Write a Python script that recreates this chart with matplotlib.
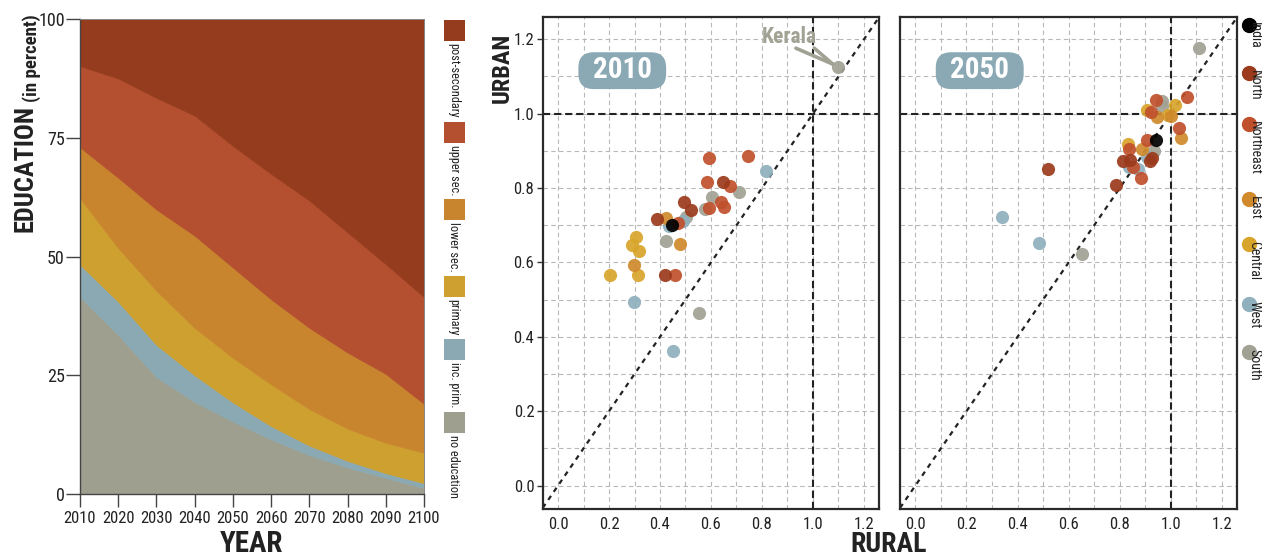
import numpy as np
import matplotlib.pyplot as plt
from matplotlib import font_manager
from matplotlib.patches import Rectangle, FancyBboxPatch
from matplotlib.lines import Line2D

# pick the narrowest sans family that is installed
_fonts = {(f.name, f.stretch) for f in font_manager.fontManager.ttflist}
_names = {n for n, _ in _fonts}
family, stretch = 'Liberation Sans', 'normal'
for fam, st in [('Liberation Sans Narrow', None), ('Roboto Condensed', None), ('Roboto', 'condensed'),
                ('Open Sans', 'condensed'), ('DejaVu Sans', 'condensed'), ('Noto Sans', 'condensed')]:
    if (st is None and fam in _names) or (fam, st) in _fonts:
        family, stretch = fam, (st or 'normal')
        break
plt.rcParams['font.family'] = [family, 'DejaVu Sans']
plt.rcParams['font.stretch'] = stretch

# education shares for India, 2010-2100 (percent of population)
years = [2010, 2020, 2030, 2040, 2050, 2060, 2070, 2080, 2090, 2100]
no_education = [41.5, 33.5, 24.6, 19.4, 15.3, 11.5, 8.2, 5.6, 3.4, 1.3]
incomplete_primary = [6.8, 7.0, 6.8, 5.6, 4.0, 2.8, 2.0, 1.4, 1.0, 1.0]
primary = [14.0, 11.3, 11.4, 10.0, 9.4, 8.8, 7.7, 6.8, 6.4, 6.4]
lower_secondary = [10.7, 14.8, 17.1, 19.4, 19.0, 17.9, 17.1, 16.0, 14.5, 10.3]
upper_secondary = [17.1, 20.9, 23.5, 25.3, 25.6, 26.4, 26.8, 25.3, 23.1, 22.5]
post_secondary = [9.9, 12.5, 16.6, 20.3, 26.7, 32.6, 38.2, 44.9, 51.6, 58.5]

edu_labels = ['no education', 'inc. prim.', 'primary', 'lower sec.', 'upper sec.', 'post-secondary']
edu_colors = ['#9e9f8f', '#8ba9b3', '#cda030', '#c8852e', '#b4502f', '#953c1e']

# state values (rural, urban) by region
regions = ['India', 'North', 'Northeast', 'East', 'Central', 'West', 'South']
region_colors = ['#000000', '#9b3a1c', '#c0502c', '#d08a2c', '#d8a52a', '#8fb0bc', '#a1a294']

rural_2010 = {
    'India': [0.447],
    'North': [0.648, 0.495, 0.522, 0.387, 0.421],
    'Northeast': [0.592, 0.745, 0.583, 0.675, 0.638, 0.652, 0.593, 0.469, 0.459],
    'East': [0.424, 0.478, 0.298],
    'Central': [0.306, 0.292, 0.319, 0.204, 0.315],
    'West': [0.814, 0.491, 0.437, 0.299, 0.450],
    'South': [0.711, 0.605, 0.578, 0.501, 0.422, 0.554, 1.097],
}
urban_2010 = {
    'India': [0.700],
    'North': [0.817, 0.762, 0.742, 0.718, 0.567],
    'Northeast': [0.882, 0.887, 0.815, 0.806, 0.762, 0.748, 0.746, 0.706, 0.567],
    'East': [0.720, 0.650, 0.594],
    'Central': [0.669, 0.648, 0.630, 0.566, 0.566],
    'West': [0.845, 0.711, 0.699, 0.494, 0.362],
    'South': [0.789, 0.775, 0.744, 0.721, 0.657, 0.464, 1.125],
}
rural_2050 = {
    'India': [0.941],
    'North': [0.521, 0.785, 0.928, 0.920, 0.814, 0.840],
    'Northeast': [1.065, 0.943, 0.922, 1.033, 0.905, 0.837, 0.853, 0.883],
    'East': [1.039, 0.944, 0.886, 1.000],
    'Central': [1.018, 0.905, 0.990, 0.831],
    'West': [0.339, 0.484, 0.905, 0.837, 0.872],
    'South': [1.111, 0.651, 0.967, 0.967, 0.934],
}
urban_2050 = {
    'India': [0.930],
    'North': [0.852, 0.809, 0.881, 0.872, 0.872, 0.876],
    'Northeast': [1.044, 1.038, 1.005, 0.961, 0.930, 0.906, 0.857, 0.827],
    'East': [0.935, 0.990, 0.906, 0.995],
    'Central': [1.024, 1.011, 0.997, 0.919],
    'West': [0.722, 0.651, 0.883, 0.857, 0.851],
    'South': [1.176, 0.623, 1.035, 1.020, 0.900],
}

W, H = 1262, 556
fig = plt.figure(figsize=(W / 100, H / 100), dpi=100)


def box(l, t, r, b):
    return [l / W, 1 - b / H, (r - l) / W, (b - t) / H]


def fx(px):
    return px / W


def fy(py):
    return 1 - py / H


# ---- stacked education shares ----
ax = fig.add_axes(box(80, 19, 424, 494))
layers = [no_education, incomplete_primary, primary, lower_secondary, upper_secondary, post_secondary]
base = np.zeros(len(years))
for vals, col in zip(layers, edu_colors):
    top = base + np.array(vals)
    ax.fill_between(years, base, top, color=col, lw=0.6, ec=col)
    base = top
ax.set_xlim(2010, 2100)
ax.set_ylim(0, 100)
ax.set_xticks(years)
ax.set_yticks([0, 25, 50, 75, 100])
ax.tick_params(axis='y', length=10, width=1, labelsize=13, pad=1, color='#444', labelcolor='#222')
ax.tick_params(axis='x', length=9, width=1, labelsize=12, pad=3, color='#444', labelcolor='#222')
for s in ['left', 'bottom']:
    ax.spines[s].set_color('#444')
    ax.spines[s].set_linewidth(1)
for s in ['top', 'right']:
    ax.spines[s].set_color('#888')
    ax.spines[s].set_linewidth(0.7)

fig.text(fx(252), fy(544), 'YEAR', ha='center', va='center', fontsize=21, fontweight='bold', color='#222')
renderer = fig.canvas.get_renderer()
t = fig.text(fx(31.5), fy(14), '(in percent)', rotation=90, ha='center', va='top',
             fontsize=13.5, fontweight='bold', color='#222')
bb = t.get_window_extent(renderer)
fig.text(fx(26), (bb.y0 - 3) / H, 'EDUCATION', rotation=90, ha='center', va='top',
         fontsize=19, fontweight='bold', color='#222')

# rotated legend for the education levels
y = 20
for lab, col in zip(edu_labels[::-1], edu_colors[::-1]):
    fig.add_artist(Rectangle((fx(444), fy(y + 21)), 21 / W, 21 / H, transform=fig.transFigure,
                             color=col, lw=0))
    t = fig.text(fx(454), fy(y + 23), lab, rotation=-90, ha='center', va='top', fontsize=8.8, color='#222')
    bb = t.get_window_extent(renderer)
    y = H - bb.y0 + 4


# ---- rural vs urban scatter panels ----
def panel(rect, rural, urban, year, show_y):
    a = fig.add_axes(rect)
    a.set_xlim(-0.06, 1.26)
    a.set_ylim(-0.062, 1.259)
    a.set_xticks(np.arange(0, 1.21, 0.2))
    a.set_yticks(np.arange(0, 1.21, 0.2))
    a.set_xticks(np.arange(0, 1.25, 0.1), minor=True)
    a.set_yticks(np.arange(0, 1.25, 0.1), minor=True)
    a.grid(which='both', ls=(0, (4, 3)), color='#b8b8b8', lw=0.8)
    a.set_axisbelow(True)
    a.tick_params(which='minor', length=0)
    a.tick_params(axis='x', length=0, labelsize=12, pad=6, labelcolor='#222')
    if show_y:
        a.tick_params(axis='y', length=4, width=1, labelsize=12, pad=2, labelcolor='#222', color='#333')
    else:
        a.tick_params(axis='y', length=0, labelleft=False)
    for s in a.spines.values():
        s.set_color('#2a2a2a')
        s.set_linewidth(1.6)
    a.axline((0, 0), (1, 1), color='#222', ls=(0, (2.2, 2.2)), lw=1.6, zorder=2)
    a.axhline(1.0, color='#222', ls=(0, (3.5, 1.8)), lw=1.5, zorder=2)
    a.axvline(1.0, color='#222', ls=(0, (3.5, 1.8)), lw=1.5, zorder=2)
    order = ['South', 'West', 'Central', 'East', 'Northeast', 'North', 'India']
    for reg in order:
        col = region_colors[regions.index(reg)]
        a.scatter(rural[reg], urban[reg], s=90, color=col, lw=0, alpha=0.92, zorder=3)
    a.add_patch(FancyBboxPatch((0.08, 1.066), 0.344, 0.099,
                               boxstyle='round,pad=0,rounding_size=0.06', mutation_aspect=0.685,
                               fc='#8aa9b4', ec='none', zorder=4))
    a.text(0.251, 1.116, year, ha='center', va='center', fontsize=21, fontweight='bold',
           color='white', zorder=5)
    return a


ax1 = panel(box(542.7, 17.3, 879.3, 508.7), rural_2010, urban_2010, '2010', True)
ax2 = panel(box(900, 17.3, 1237.3, 508.7), rural_2050, urban_2050, '2050', False)

# Kerala callout
ax1.text(0.906, 1.207, 'Kerala', ha='center', va='center', fontsize=15.5, fontweight='bold',
         color='#a1a294', zorder=5)
for sx in (0.933, 1.005):
    ax1.plot([sx, 1.078], [1.176, 1.133], color='#a1a294', lw=2.6, solid_capstyle='round', zorder=4)

fig.text(fx(502), fy(33), 'URBAN', rotation=90, ha='center', va='top', fontsize=17.5,
         fontweight='bold', color='#222')
fig.text(fx(889), fy(544), 'RURAL', ha='center', va='center', fontsize=20, fontweight='bold', color='#222')

# rotated region legend
y = 25
for reg, col in zip(regions, region_colors):
    fig.add_artist(Line2D([fx(1249)], [fy(y)], transform=fig.transFigure, marker='o', ms=10,
                          color=col, ls='none'))
    t = fig.text(fx(1254.5), fy(y - 3), reg, rotation=-90, ha='center', va='top', fontsize=10, color='#222')
    bb = t.get_window_extent(renderer)
    y = H - bb.y0 + 24

fig.savefig('out.png', dpi=100, facecolor='white')
